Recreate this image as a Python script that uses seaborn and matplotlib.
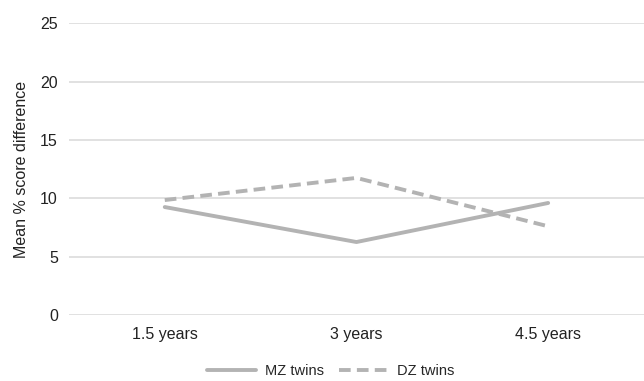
import pandas as pd
import matplotlib
matplotlib.use("Agg")
import matplotlib.pyplot as plt
import seaborn as sns

# Datos
edades = ["1.5 years", "3 years", "4.5 years"]
mz = [9.25, 6.25, 9.6]
dz = [9.85, 11.75, 7.6]

df = pd.DataFrame({
    "edad": edades * 2,
    "valor": mz + dz,
    "grupo": ["MZ twins"] * 3 + ["DZ twins"] * 3,
})

sns.set_theme(style="white")
plt.rcParams["font.family"] = ["Liberation Sans", "DejaVu Sans"]

fig = plt.figure(figsize=(6.44, 3.81), dpi=100)
ax = fig.add_axes([0.107, 0.172, 0.893, 0.768])

sns.lineplot(data=df, x="edad", y="valor", hue="grupo", style="grupo",
             palette=["#b3b3b3", "#b3b3b3"],
             dashes={"MZ twins": "", "DZ twins": (3, 1.6)},
             linewidth=2.8, sort=False, ax=ax)

ax.set_xlim(-0.5, 2.5)
ax.set_ylim(-0.05, 25.05)
ax.set_yticks([0, 5, 10, 15, 20, 25])
ax.yaxis.grid(True, color="#dcdcdc", linewidth=1.2)
ax.set_axisbelow(True)
for s in ax.spines.values():
    s.set_visible(False)
ax.tick_params(axis="both", length=0, labelsize=11.5, colors="#222222", pad=8)
ax.tick_params(axis="x", pad=8)
ax.set_xlabel("")
ax.set_ylabel("Mean % score difference", fontsize=11.5, color="#222222", labelpad=8)

ax.legend(title=None, loc="upper center", bbox_to_anchor=(0.455, -0.12),
          ncol=2, frameon=False, fontsize=10.5, handlelength=3.4,
          columnspacing=1.0, handletextpad=0.6)

fig.savefig("out.png", dpi=100)
